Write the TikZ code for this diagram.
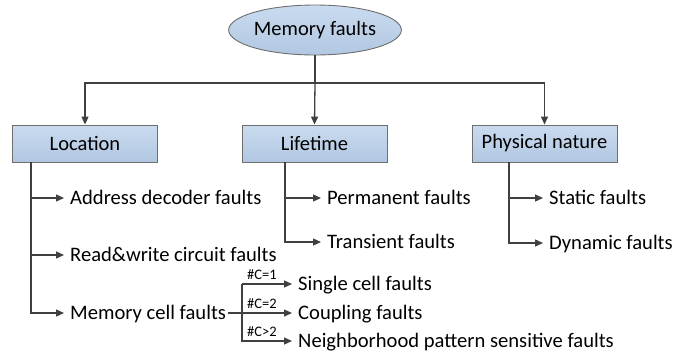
\documentclass[tikz,border=0pt]{standalone}
\usepackage{fontspec}
\setmainfont{Carlito}
\usetikzlibrary{arrows.meta,shapes.geometric}
\definecolor{boxline}{HTML}{6E6E6E}
\definecolor{boxtop}{HTML}{CADBEF}
\definecolor{boxbot}{HTML}{B1C7E1}
\definecolor{linecol}{HTML}{404040}
\begin{document}
\begin{tikzpicture}[x=1pt,y=-1pt,
  box/.style={draw=boxline, line width=0.9pt, top color=boxtop, bottom color=boxbot,
    minimum width=145pt, minimum height=37pt, inner sep=0pt, font=\fontsize{20.5}{24}\selectfont},
  rootstyle/.style={ellipse, draw=boxline, line width=0.9pt, top color=boxtop, bottom color=boxbot,
    minimum width=154pt, minimum height=50pt, inner sep=0pt, font=\fontsize{20.5}{24}\selectfont},
  lbl/.style={anchor=west, inner sep=0pt, text height=13pt, text depth=0pt, font=\fontsize{20.6}{24}\selectfont},
  small/.style={anchor=base west, inner sep=0pt, font=\fontsize{14.5}{17}\selectfont},
  plain/.style={draw=linecol, line width=1.3pt},
  conn/.style={draw=linecol, line width=1.3pt, -{Triangle[length=8pt,width=7pt]}},
  item/.style={conn, shorten >=6pt}
]
\useasboundingbox (0,0) rectangle (685,357);

\node[rootstyle] (root) at (315,30) {Memory faults};
\node[box] (loc) at (85,143.5) {Location};
\node[box] (life) at (314.5,143.5) {Lifetime};
\node[box] (phys) at (544.5,143.5) {Physical nature};

\coordinate (hub) at (315,83);
\draw[plain] (root.south) -- (hub);
\draw[conn] (hub) -| (loc.north);
\draw[conn] (hub) -- (life.north);
\draw[conn] (hub) -| (phys.north);

% Location
\node[lbl] (a1) at (70,198) {Address decoder faults};
\node[lbl] (a2) at (70,255) {Read\&write circuit faults};
\node[lbl] (a3) at (70,313) {Memory cell faults};
\coordinate (lx) at (31,162);
\draw[item] (lx) |- (a3.west);
\draw[item] (lx |- a1.west) -- (a1.west);
\draw[item] (lx |- a2.west) -- (a2.west);

% Lifetime
\node[lbl] (b1) at (327,198) {Permanent faults};
\node[lbl] (b2) at (327,242) {Transient faults};
\coordinate (bx) at (285,162);
\draw[item] (bx) |- (b2.west);
\draw[item] (bx |- b1.west) -- (b1.west);

% Physical nature
\node[lbl] (c1) at (549,198) {Static faults};
\node[lbl] (c2) at (549,243) {Dynamic faults};
\coordinate (cx) at (509,162);
\draw[item] (cx) |- (c2.west);
\draw[item] (cx |- c1.west) -- (c1.west);

% Memory cell faults
\node[lbl] (d1) at (298,284) {Single cell faults};
\node[lbl] (d2) at (298,313) {Coupling faults};
\node[lbl] (d3) at (298,341) {Neighborhood pattern sensitive faults};
\coordinate (dx) at (242,313);
\draw[plain] ([xshift=2pt]a3.east) -- (dx);
\draw[item] (dx |- d1.west) -- (d1.west);
\draw[item] (dx) -- (d2.west);
\draw[item] (dx |- d1.west) -- (dx |- d3.west) -- (d3.west);
\node[small] (l1) at (247,279) {\#C=1};
\node[small] (l2) at (247,308) {\#C=2};
\node[small] (l3) at (247,336) {\#C>2};
\end{tikzpicture}
\end{document}
